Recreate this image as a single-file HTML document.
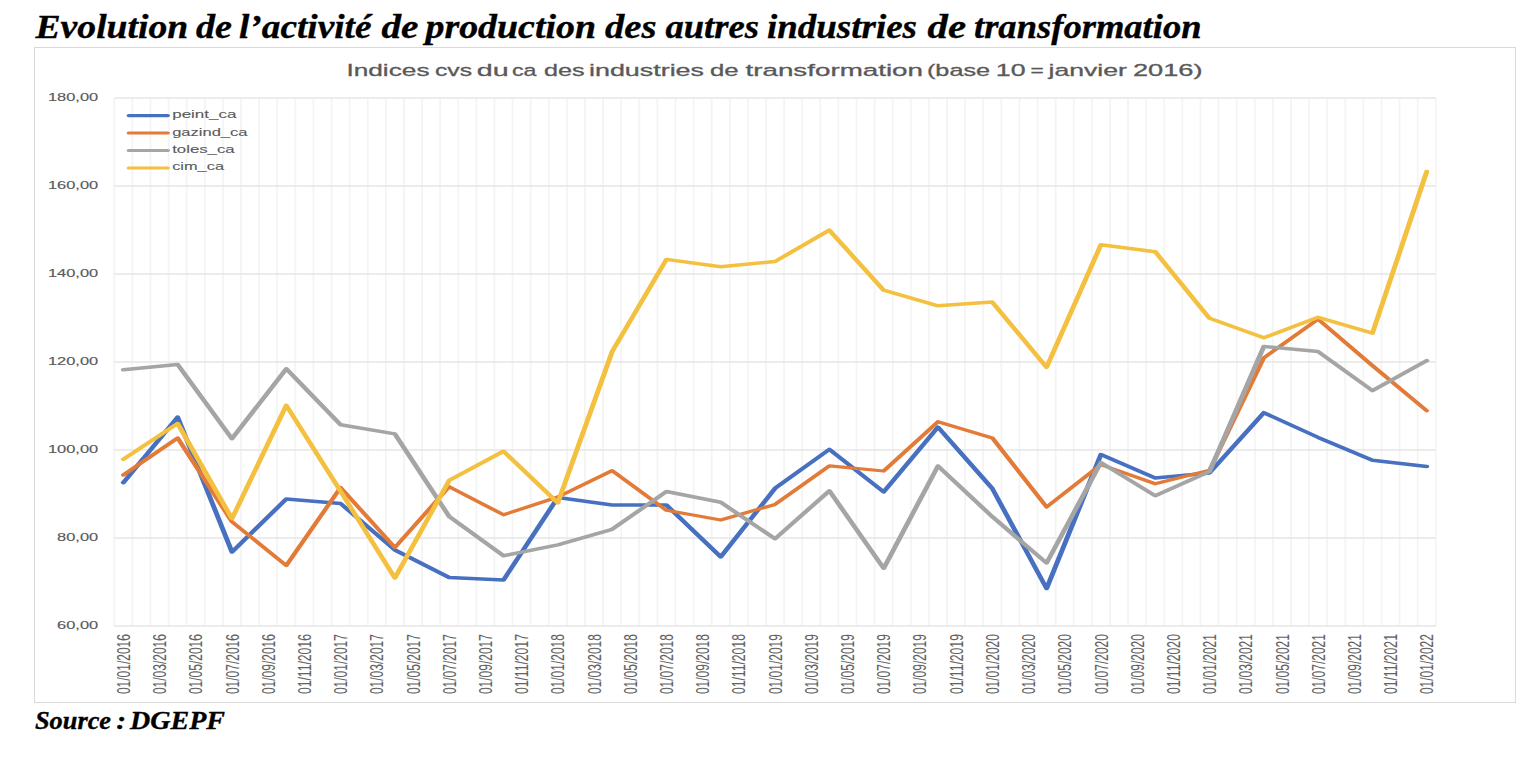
<!DOCTYPE html><html><head><meta charset="utf-8"><style>html,body{margin:0;padding:0;background:#fff;width:1536px;height:773px;overflow:hidden}svg{display:block}</style></head><body>
<svg width="1536" height="773" viewBox="0 0 1536 773">
<rect x="0" y="0" width="1536" height="773" fill="#fff"/>
<g font-family="Liberation Serif" font-weight="bold" font-style="italic" fill="#000" stroke="#000" stroke-width="0.35">
<text x="35.51" y="38.1" font-size="34.3" textLength="152.76" lengthAdjust="spacingAndGlyphs">Evolution</text>
<text x="196.00" y="38.1" font-size="34.3" textLength="36.01" lengthAdjust="spacingAndGlyphs">de</text>
<text x="239.00" y="38.1" font-size="34.3" textLength="132.50" lengthAdjust="spacingAndGlyphs">l’activité</text>
<text x="381.48" y="38.1" font-size="34.3" textLength="37.04" lengthAdjust="spacingAndGlyphs">de</text>
<text x="425.48" y="38.1" font-size="34.3" textLength="170.51" lengthAdjust="spacingAndGlyphs">production</text>
<text x="605.00" y="38.1" font-size="34.3" textLength="51.51" lengthAdjust="spacingAndGlyphs">des</text>
<text x="665.49" y="38.1" font-size="34.3" textLength="93.51" lengthAdjust="spacingAndGlyphs">autres</text>
<text x="766.99" y="38.1" font-size="34.3" textLength="150.01" lengthAdjust="spacingAndGlyphs">industries</text>
<text x="927.49" y="38.1" font-size="34.3" textLength="38.53" lengthAdjust="spacingAndGlyphs">de</text>
<text x="973.99" y="38.1" font-size="34.3" textLength="227.54" lengthAdjust="spacingAndGlyphs">transformation</text>
</g>
<rect x="34.5" y="47.5" width="1481" height="655" fill="#fff" stroke="#D9D9D9" stroke-width="1"/>
<g font-family="Liberation Sans" fill="#595959" stroke="#595959" stroke-width="0.3">
<text x="346.41" y="75.5" font-size="16.8" textLength="83.12" lengthAdjust="spacingAndGlyphs">Indices</text>
<text x="434.98" y="75.5" font-size="16.8" textLength="37.08" lengthAdjust="spacingAndGlyphs">cvs</text>
<text x="476.89" y="75.5" font-size="16.8" textLength="31.80" lengthAdjust="spacingAndGlyphs">du</text>
<text x="511.97" y="75.5" font-size="16.8" textLength="24.54" lengthAdjust="spacingAndGlyphs">ca</text>
<text x="543.94" y="75.5" font-size="16.8" textLength="40.61" lengthAdjust="spacingAndGlyphs">des</text>
<text x="588.97" y="75.5" font-size="16.8" textLength="115.04" lengthAdjust="spacingAndGlyphs">industries</text>
<text x="709.91" y="75.5" font-size="16.8" textLength="28.64" lengthAdjust="spacingAndGlyphs">de</text>
<text x="745.49" y="75.5" font-size="16.8" textLength="177.52" lengthAdjust="spacingAndGlyphs">transformation</text>
<text x="926.97" y="75.5" font-size="16.8" textLength="63.07" lengthAdjust="spacingAndGlyphs">(base</text>
<text x="995.83" y="75.5" font-size="16.8" textLength="29.74" lengthAdjust="spacingAndGlyphs">10</text>
<text x="1030.43" y="75.5" font-size="16.8" textLength="13.24" lengthAdjust="spacingAndGlyphs">=</text>
<text x="1048.48" y="75.5" font-size="16.8" textLength="78.52" lengthAdjust="spacingAndGlyphs">janvier</text>
<text x="1132.97" y="75.5" font-size="16.8" textLength="69.58" lengthAdjust="spacingAndGlyphs">2016)</text>
</g>
<path d="M114.30 98.0V626.0M132.40 98.0V626.0M150.51 98.0V626.0M168.61 98.0V626.0M186.71 98.0V626.0M204.81 98.0V626.0M222.92 98.0V626.0M241.02 98.0V626.0M259.12 98.0V626.0M277.22 98.0V626.0M295.33 98.0V626.0M313.43 98.0V626.0M331.53 98.0V626.0M349.64 98.0V626.0M367.74 98.0V626.0M385.84 98.0V626.0M403.94 98.0V626.0M422.05 98.0V626.0M440.15 98.0V626.0M458.25 98.0V626.0M476.35 98.0V626.0M494.46 98.0V626.0M512.56 98.0V626.0M530.66 98.0V626.0M548.77 98.0V626.0M566.87 98.0V626.0M584.97 98.0V626.0M603.07 98.0V626.0M621.18 98.0V626.0M639.28 98.0V626.0M657.38 98.0V626.0M675.48 98.0V626.0M693.59 98.0V626.0M711.69 98.0V626.0M729.79 98.0V626.0M747.90 98.0V626.0M766.00 98.0V626.0M784.10 98.0V626.0M802.20 98.0V626.0M820.31 98.0V626.0M838.41 98.0V626.0M856.51 98.0V626.0M874.62 98.0V626.0M892.72 98.0V626.0M910.82 98.0V626.0M928.92 98.0V626.0M947.03 98.0V626.0M965.13 98.0V626.0M983.23 98.0V626.0M1001.33 98.0V626.0M1019.44 98.0V626.0M1037.54 98.0V626.0M1055.64 98.0V626.0M1073.75 98.0V626.0M1091.85 98.0V626.0M1109.95 98.0V626.0M1128.05 98.0V626.0M1146.16 98.0V626.0M1164.26 98.0V626.0M1182.36 98.0V626.0M1200.46 98.0V626.0M1218.57 98.0V626.0M1236.67 98.0V626.0M1254.77 98.0V626.0M1272.88 98.0V626.0M1290.98 98.0V626.0M1309.08 98.0V626.0M1327.18 98.0V626.0M1345.29 98.0V626.0M1363.39 98.0V626.0M1381.49 98.0V626.0M1399.59 98.0V626.0M1417.70 98.0V626.0M1435.80 98.0V626.0" stroke="#F4F4F4" stroke-width="1.8" fill="none"/>
<path d="M114.3 98.0H1435.8M114.3 186.0H1435.8M114.3 274.0H1435.8M114.3 362.0H1435.8M114.3 450.0H1435.8M114.3 538.0H1435.8M114.3 626.0H1435.8" stroke="#E6E6E6" stroke-width="1.4" fill="none"/>
<text x="47.90" y="100.8" font-family="Liberation Sans" font-size="11.8" stroke="#595959" stroke-width="0.15" textLength="50.30" lengthAdjust="spacingAndGlyphs" fill="#595959">180,00</text>
<text x="47.90" y="189.4" font-family="Liberation Sans" font-size="11.8" stroke="#595959" stroke-width="0.15" textLength="50.30" lengthAdjust="spacingAndGlyphs" fill="#595959">160,00</text>
<text x="47.90" y="277.4" font-family="Liberation Sans" font-size="11.8" stroke="#595959" stroke-width="0.15" textLength="50.30" lengthAdjust="spacingAndGlyphs" fill="#595959">140,00</text>
<text x="47.90" y="365.4" font-family="Liberation Sans" font-size="11.8" stroke="#595959" stroke-width="0.15" textLength="50.30" lengthAdjust="spacingAndGlyphs" fill="#595959">120,00</text>
<text x="47.90" y="453.4" font-family="Liberation Sans" font-size="11.8" stroke="#595959" stroke-width="0.15" textLength="50.30" lengthAdjust="spacingAndGlyphs" fill="#595959">100,00</text>
<text x="57.05" y="541.4" font-family="Liberation Sans" font-size="11.8" stroke="#595959" stroke-width="0.15" textLength="41.15" lengthAdjust="spacingAndGlyphs" fill="#595959">80,00</text>
<text x="57.05" y="629.4" font-family="Liberation Sans" font-size="11.8" stroke="#595959" stroke-width="0.15" textLength="41.15" lengthAdjust="spacingAndGlyphs" fill="#595959">60,00</text>
<text transform="translate(129.95,694.1) scale(1.40,1) rotate(-90)" font-family="Liberation Sans" font-size="13" stroke="#666" stroke-width="0.05" textLength="60" lengthAdjust="spacingAndGlyphs" fill="#626262">01/01/2016</text>
<text transform="translate(166.16,694.1) scale(1.40,1) rotate(-90)" font-family="Liberation Sans" font-size="13" stroke="#666" stroke-width="0.05" textLength="60" lengthAdjust="spacingAndGlyphs" fill="#626262">01/03/2016</text>
<text transform="translate(202.36,694.1) scale(1.40,1) rotate(-90)" font-family="Liberation Sans" font-size="13" stroke="#666" stroke-width="0.05" textLength="60" lengthAdjust="spacingAndGlyphs" fill="#626262">01/05/2016</text>
<text transform="translate(238.57,694.1) scale(1.40,1) rotate(-90)" font-family="Liberation Sans" font-size="13" stroke="#666" stroke-width="0.05" textLength="60" lengthAdjust="spacingAndGlyphs" fill="#626262">01/07/2016</text>
<text transform="translate(274.77,694.1) scale(1.40,1) rotate(-90)" font-family="Liberation Sans" font-size="13" stroke="#666" stroke-width="0.05" textLength="60" lengthAdjust="spacingAndGlyphs" fill="#626262">01/09/2016</text>
<text transform="translate(310.98,694.1) scale(1.40,1) rotate(-90)" font-family="Liberation Sans" font-size="13" stroke="#666" stroke-width="0.05" textLength="60" lengthAdjust="spacingAndGlyphs" fill="#626262">01/11/2016</text>
<text transform="translate(347.18,694.1) scale(1.40,1) rotate(-90)" font-family="Liberation Sans" font-size="13" stroke="#666" stroke-width="0.05" textLength="60" lengthAdjust="spacingAndGlyphs" fill="#626262">01/01/2017</text>
<text transform="translate(383.39,694.1) scale(1.40,1) rotate(-90)" font-family="Liberation Sans" font-size="13" stroke="#666" stroke-width="0.05" textLength="60" lengthAdjust="spacingAndGlyphs" fill="#626262">01/03/2017</text>
<text transform="translate(419.60,694.1) scale(1.40,1) rotate(-90)" font-family="Liberation Sans" font-size="13" stroke="#666" stroke-width="0.05" textLength="60" lengthAdjust="spacingAndGlyphs" fill="#626262">01/05/2017</text>
<text transform="translate(455.80,694.1) scale(1.40,1) rotate(-90)" font-family="Liberation Sans" font-size="13" stroke="#666" stroke-width="0.05" textLength="60" lengthAdjust="spacingAndGlyphs" fill="#626262">01/07/2017</text>
<text transform="translate(492.01,694.1) scale(1.40,1) rotate(-90)" font-family="Liberation Sans" font-size="13" stroke="#666" stroke-width="0.05" textLength="60" lengthAdjust="spacingAndGlyphs" fill="#626262">01/09/2017</text>
<text transform="translate(528.21,694.1) scale(1.40,1) rotate(-90)" font-family="Liberation Sans" font-size="13" stroke="#666" stroke-width="0.05" textLength="60" lengthAdjust="spacingAndGlyphs" fill="#626262">01/11/2017</text>
<text transform="translate(564.42,694.1) scale(1.40,1) rotate(-90)" font-family="Liberation Sans" font-size="13" stroke="#666" stroke-width="0.05" textLength="60" lengthAdjust="spacingAndGlyphs" fill="#626262">01/01/2018</text>
<text transform="translate(600.62,694.1) scale(1.40,1) rotate(-90)" font-family="Liberation Sans" font-size="13" stroke="#666" stroke-width="0.05" textLength="60" lengthAdjust="spacingAndGlyphs" fill="#626262">01/03/2018</text>
<text transform="translate(636.83,694.1) scale(1.40,1) rotate(-90)" font-family="Liberation Sans" font-size="13" stroke="#666" stroke-width="0.05" textLength="60" lengthAdjust="spacingAndGlyphs" fill="#626262">01/05/2018</text>
<text transform="translate(673.03,694.1) scale(1.40,1) rotate(-90)" font-family="Liberation Sans" font-size="13" stroke="#666" stroke-width="0.05" textLength="60" lengthAdjust="spacingAndGlyphs" fill="#626262">01/07/2018</text>
<text transform="translate(709.24,694.1) scale(1.40,1) rotate(-90)" font-family="Liberation Sans" font-size="13" stroke="#666" stroke-width="0.05" textLength="60" lengthAdjust="spacingAndGlyphs" fill="#626262">01/09/2018</text>
<text transform="translate(745.44,694.1) scale(1.40,1) rotate(-90)" font-family="Liberation Sans" font-size="13" stroke="#666" stroke-width="0.05" textLength="60" lengthAdjust="spacingAndGlyphs" fill="#626262">01/11/2018</text>
<text transform="translate(781.65,694.1) scale(1.40,1) rotate(-90)" font-family="Liberation Sans" font-size="13" stroke="#666" stroke-width="0.05" textLength="60" lengthAdjust="spacingAndGlyphs" fill="#626262">01/01/2019</text>
<text transform="translate(817.86,694.1) scale(1.40,1) rotate(-90)" font-family="Liberation Sans" font-size="13" stroke="#666" stroke-width="0.05" textLength="60" lengthAdjust="spacingAndGlyphs" fill="#626262">01/03/2019</text>
<text transform="translate(854.06,694.1) scale(1.40,1) rotate(-90)" font-family="Liberation Sans" font-size="13" stroke="#666" stroke-width="0.05" textLength="60" lengthAdjust="spacingAndGlyphs" fill="#626262">01/05/2019</text>
<text transform="translate(890.27,694.1) scale(1.40,1) rotate(-90)" font-family="Liberation Sans" font-size="13" stroke="#666" stroke-width="0.05" textLength="60" lengthAdjust="spacingAndGlyphs" fill="#626262">01/07/2019</text>
<text transform="translate(926.47,694.1) scale(1.40,1) rotate(-90)" font-family="Liberation Sans" font-size="13" stroke="#666" stroke-width="0.05" textLength="60" lengthAdjust="spacingAndGlyphs" fill="#626262">01/09/2019</text>
<text transform="translate(962.68,694.1) scale(1.40,1) rotate(-90)" font-family="Liberation Sans" font-size="13" stroke="#666" stroke-width="0.05" textLength="60" lengthAdjust="spacingAndGlyphs" fill="#626262">01/11/2019</text>
<text transform="translate(998.88,694.1) scale(1.40,1) rotate(-90)" font-family="Liberation Sans" font-size="13" stroke="#666" stroke-width="0.05" textLength="60" lengthAdjust="spacingAndGlyphs" fill="#626262">01/01/2020</text>
<text transform="translate(1035.09,694.1) scale(1.40,1) rotate(-90)" font-family="Liberation Sans" font-size="13" stroke="#666" stroke-width="0.05" textLength="60" lengthAdjust="spacingAndGlyphs" fill="#626262">01/03/2020</text>
<text transform="translate(1071.29,694.1) scale(1.40,1) rotate(-90)" font-family="Liberation Sans" font-size="13" stroke="#666" stroke-width="0.05" textLength="60" lengthAdjust="spacingAndGlyphs" fill="#626262">01/05/2020</text>
<text transform="translate(1107.50,694.1) scale(1.40,1) rotate(-90)" font-family="Liberation Sans" font-size="13" stroke="#666" stroke-width="0.05" textLength="60" lengthAdjust="spacingAndGlyphs" fill="#626262">01/07/2020</text>
<text transform="translate(1143.70,694.1) scale(1.40,1) rotate(-90)" font-family="Liberation Sans" font-size="13" stroke="#666" stroke-width="0.05" textLength="60" lengthAdjust="spacingAndGlyphs" fill="#626262">01/09/2020</text>
<text transform="translate(1179.91,694.1) scale(1.40,1) rotate(-90)" font-family="Liberation Sans" font-size="13" stroke="#666" stroke-width="0.05" textLength="60" lengthAdjust="spacingAndGlyphs" fill="#626262">01/11/2020</text>
<text transform="translate(1216.12,694.1) scale(1.40,1) rotate(-90)" font-family="Liberation Sans" font-size="13" stroke="#666" stroke-width="0.05" textLength="60" lengthAdjust="spacingAndGlyphs" fill="#626262">01/01/2021</text>
<text transform="translate(1252.32,694.1) scale(1.40,1) rotate(-90)" font-family="Liberation Sans" font-size="13" stroke="#666" stroke-width="0.05" textLength="60" lengthAdjust="spacingAndGlyphs" fill="#626262">01/03/2021</text>
<text transform="translate(1288.53,694.1) scale(1.40,1) rotate(-90)" font-family="Liberation Sans" font-size="13" stroke="#666" stroke-width="0.05" textLength="60" lengthAdjust="spacingAndGlyphs" fill="#626262">01/05/2021</text>
<text transform="translate(1324.73,694.1) scale(1.40,1) rotate(-90)" font-family="Liberation Sans" font-size="13" stroke="#666" stroke-width="0.05" textLength="60" lengthAdjust="spacingAndGlyphs" fill="#626262">01/07/2021</text>
<text transform="translate(1360.94,694.1) scale(1.40,1) rotate(-90)" font-family="Liberation Sans" font-size="13" stroke="#666" stroke-width="0.05" textLength="60" lengthAdjust="spacingAndGlyphs" fill="#626262">01/09/2021</text>
<text transform="translate(1397.14,694.1) scale(1.40,1) rotate(-90)" font-family="Liberation Sans" font-size="13" stroke="#666" stroke-width="0.05" textLength="60" lengthAdjust="spacingAndGlyphs" fill="#626262">01/11/2021</text>
<text transform="translate(1433.35,694.1) scale(1.40,1) rotate(-90)" font-family="Liberation Sans" font-size="13" stroke="#666" stroke-width="0.05" textLength="60" lengthAdjust="spacingAndGlyphs" fill="#626262">01/01/2022</text>
<g transform="translate(114.3 0) scale(1.43 1)">
<polyline points="6.330,482.70 44.307,417.10 82.285,552.00 120.263,499.00 158.241,503.50 196.219,550.00 234.196,577.50 272.174,580.00 310.152,497.50 348.130,505.00 386.107,505.00 424.085,556.90 462.063,488.30 500.041,449.40 538.018,491.90 575.996,427.20 613.974,488.50 651.952,588.50 689.930,454.60 727.907,478.10 765.885,472.90 803.863,412.70 841.841,437.40 879.818,460.20 917.796,466.50" fill="none" stroke="#4770C0" stroke-width="3.5" stroke-linejoin="round" stroke-linecap="round"/>
<polyline points="6.330,475.00 44.307,438.00 82.285,521.80 120.263,565.50 158.241,487.50 196.219,547.50 234.196,486.70 272.174,514.80 310.152,497.00 348.130,470.70 386.107,510.30 424.085,520.00 462.063,504.40 500.041,465.80 538.018,471.00 575.996,421.70 613.974,437.90 651.952,507.00 689.930,464.60 727.907,483.75 765.885,470.30 803.863,357.80 841.841,319.20 879.818,365.60 917.796,410.80" fill="none" stroke="#E27A38" stroke-width="3.25" stroke-linejoin="round" stroke-linecap="round"/>
<polyline points="6.330,369.80 44.307,364.50 82.285,438.70 120.263,368.80 158.241,424.80 196.219,433.90 234.196,516.50 272.174,555.80 310.152,544.90 348.130,529.30 386.107,491.50 424.085,502.30 462.063,538.75 500.041,490.80 538.018,568.30 575.996,466.00 613.974,516.70 651.952,563.00 689.930,462.50 727.907,495.80 765.885,471.50 803.863,346.50 841.841,351.60 879.818,390.60 917.796,360.70" fill="none" stroke="#A5A5A5" stroke-width="3.5" stroke-linejoin="round" stroke-linecap="round"/>
<polyline points="6.330,459.20 44.307,423.50 82.285,518.70 120.263,405.40 158.241,491.30 196.219,578.00 234.196,480.40 272.174,451.25 310.152,502.90 348.130,351.70 386.107,259.40 424.085,266.70 462.063,261.50 500.041,230.20 538.018,290.20 575.996,305.80 613.974,302.10 651.952,367.30 689.930,244.80 727.907,251.70 765.885,318.30 803.863,337.80 841.841,317.30 879.818,333.20 917.796,171.50" fill="none" stroke="#F3C040" stroke-width="3.5" stroke-linejoin="round" stroke-linecap="round"/>
</g>
<g transform="translate(128.85 0) scale(1.43 1)"><line x1="0" y1="115.60" x2="27.203" y2="115.60" stroke="#4770C0" stroke-width="3.1" stroke-linecap="round"/></g>
<text x="172.2" y="118.10" font-family="Liberation Sans" font-size="11.8" stroke="#595959" stroke-width="0.1" textLength="64.3" lengthAdjust="spacingAndGlyphs" fill="#595959">peint_ca</text>
<g transform="translate(128.85 0) scale(1.43 1)"><line x1="0" y1="133.05" x2="27.203" y2="133.05" stroke="#E27A38" stroke-width="3.1" stroke-linecap="round"/></g>
<text x="172.2" y="135.55" font-family="Liberation Sans" font-size="11.8" stroke="#595959" stroke-width="0.1" textLength="75.3" lengthAdjust="spacingAndGlyphs" fill="#595959">gazind_ca</text>
<g transform="translate(128.85 0) scale(1.43 1)"><line x1="0" y1="150.50" x2="27.203" y2="150.50" stroke="#A5A5A5" stroke-width="3.1" stroke-linecap="round"/></g>
<text x="172.2" y="153.00" font-family="Liberation Sans" font-size="11.8" stroke="#595959" stroke-width="0.1" textLength="62.5" lengthAdjust="spacingAndGlyphs" fill="#595959">toles_ca</text>
<g transform="translate(128.85 0) scale(1.43 1)"><line x1="0" y1="167.95" x2="27.203" y2="167.95" stroke="#F3C040" stroke-width="3.1" stroke-linecap="round"/></g>
<text x="172.2" y="170.45" font-family="Liberation Sans" font-size="11.8" stroke="#595959" stroke-width="0.1" textLength="51.8" lengthAdjust="spacingAndGlyphs" fill="#595959">cim_ca</text>
<g font-family="Liberation Serif" font-weight="bold" font-style="italic" fill="#000" stroke="#000" stroke-width="0.35">
<text x="34.99" y="728.5" font-size="25.3" textLength="76.01" lengthAdjust="spacingAndGlyphs">Source</text>
<text x="116.22" y="728.5" font-size="25.3" textLength="9.87" lengthAdjust="spacingAndGlyphs">:</text>
<text x="130.00" y="728.5" font-size="25.3" textLength="95.00" lengthAdjust="spacingAndGlyphs">DGEPF</text>
</g>
</svg></body></html>
